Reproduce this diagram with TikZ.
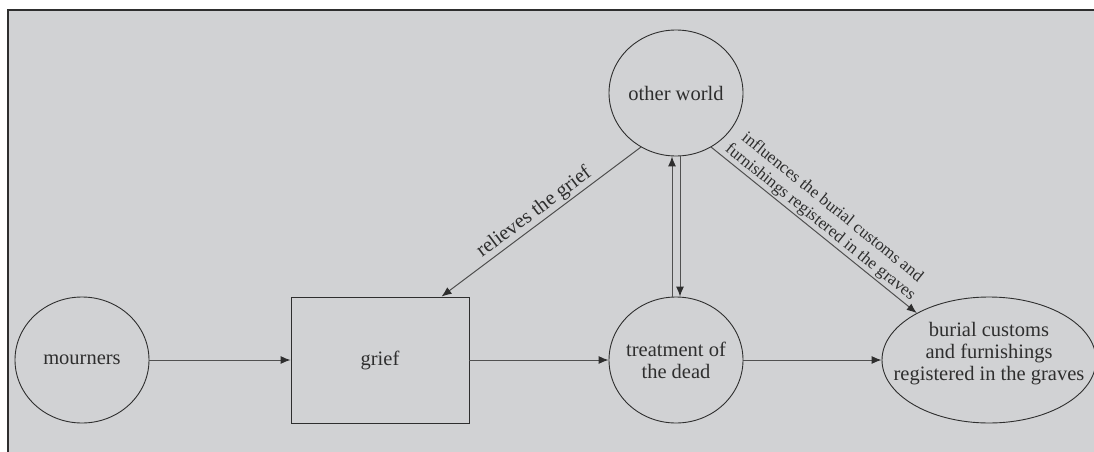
\documentclass[tikz,border=0pt]{standalone}
\usepackage{fontspec}
\setmainfont{Liberation Serif}
\usetikzlibrary{shapes.geometric,arrows.meta}
\definecolor{bg}{HTML}{D1D2D4}
\definecolor{ln}{HTML}{2E2E2E}
\definecolor{ar}{HTML}{505050}
\begin{document}
\begin{tikzpicture}[x=1pt,y=-1pt,
 ell/.style={ellipse,draw=ln,line width=0.9pt,inner sep=0pt,minimum width=134pt,minimum height=126pt},
 lab/.style={font=\fontsize{20.5}{22}\selectfont,align=center,text=ln,inner sep=0pt},
 arr/.style={draw=ar,line width=1pt,-{Latex[length=10pt,width=8pt,color=ln]}},
 elab/.style={font=\fontsize{17}{19}\selectfont,text=ln,align=center}]
\useasboundingbox (0,0) rectangle (1094,452);
\fill[bg] (8,10) rectangle (1094,452);
\draw[ln,line width=1.5pt] (8,452) -- (8,10) -- (1094,10);
\node[ell,label={[lab]center:mourners}] (mo) at (82,360) {};
\node[draw=ln,line width=0.9pt,minimum width=178pt,minimum height=126pt,lab] (gr) at (380,360) {grief};
\node[ell,label={[lab]center:treatment of\\the dead}] (tr) at (676,360) {};
\node[ell,label={[lab]center:other world}] (ow) at (676,93) {};
\node[ell,minimum width=214pt,label={[lab,yshift=6pt]center:burial customs\\and furnishings\\registered in the graves}] (bc) at (989,360) {};
\draw[arr] (mo) -- (gr);
\draw[arr] (gr) -- (tr);
\draw[arr] (tr) -- (bc);
\draw[arr] ([xshift=-4pt]tr.north) -- ([xshift=-4pt]ow.south);
\draw[arr] ([xshift=4pt]ow.south) -- ([xshift=4pt]tr.north);
\coordinate (gtip) at ([xshift=151pt]gr.north west);
\draw[arr] (ow.237) -- (gtip);
\path (gtip) -- (ow.237) node[midway,sloped,above,lab,inner sep=2pt] {relieves the grief};
\draw[arr] (ow.303) -- (bc.147) node[midway,sloped,above,elab,inner sep=1.5pt] {influences the burial customs and\\furnishings registered in the graves};
\end{tikzpicture}
\end{document}
